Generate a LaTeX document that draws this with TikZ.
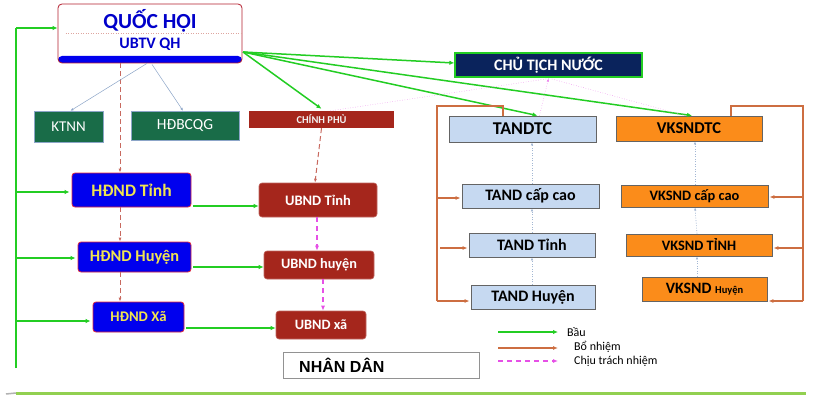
\documentclass[tikz,border=0pt]{standalone}
\usepackage{fontspec}
\setmainfont{Carlito}
\newfontfamily\arialfont{Liberation Sans}
\usetikzlibrary{arrows.meta,calc}
\definecolor{bgreen}{RGB}{35,205,35}
\definecolor{borange}{RGB}{205,110,65}
\definecolor{bpink}{RGB}{230,80,230}
\definecolor{bbrown}{RGB}{200,105,95}
\definecolor{hdblue}{RGB}{0,0,238}
\definecolor{hdred}{RGB}{225,40,60}
\definecolor{hdyellow}{RGB}{240,228,80}
\definecolor{ubred}{RGB}{165,38,28}
\definecolor{kgreen}{RGB}{25,108,72}
\definecolor{navy}{RGB}{10,35,92}
\definecolor{tblue}{RGB}{198,217,241}
\definecolor{vorange}{RGB}{251,140,26}
\definecolor{gborder}{RGB}{100,100,100}
\definecolor{thinblue}{RGB}{140,165,200}
\definecolor{lgreen}{RGB}{146,208,80}
\begin{document}
\begin{tikzpicture}[x=1pt,y=-1pt,
  fsz/.style={font={\fontsize{#1}{#1}\selectfont\bfseries}},
  fszr/.style={font={\fontsize{#1}{#1}\selectfont}},
  bx/.style 2 args={inner sep=0pt,minimum width=#1,minimum height=#2},
  hdnd/.style={draw=hdred,line width=0.8pt,fill=hdblue,rounded corners=3pt,text=hdyellow},
  ubnd/.style={fill=ubred,draw=ubred!70!white,line width=0.6pt,rounded corners=3pt,text=white},
  tand/.style={fill=tblue,draw=gborder,line width=0.8pt},
  vks/.style={fill=vorange,draw=gborder,line width=0.8pt},
  kgr/.style={fill=kgreen,draw=thinblue,line width=0.5pt,text=white},
  bau/.style={draw=bgreen,line width=1.5pt,-{Latex[length=5pt,width=4.5pt]}},
  bauline/.style={draw=bgreen,line width=1.5pt},
  bonhiem/.style={draw=borange,line width=1.3pt,-{Latex[length=5pt,width=4pt]}},
  bonline/.style={draw=borange,line width=1.3pt},
  ctn/.style={draw=bpink,line width=1.4pt,dash pattern=on 5pt off 4pt,-{Latex[length=5pt,width=4pt]}},
  pinkdot/.style={draw=bpink!70!white,line width=0.5pt,dotted},
  browndash/.style={draw=bbrown,line width=1pt,dash pattern=on 5pt off 3pt,-{Latex[length=4pt,width=3pt]}},
  bluedot/.style={draw=thinblue!80!white,line width=0.6pt,dash pattern=on 1pt off 1.5pt,-{Latex[length=3pt,width=2.5pt]}},
  thinline/.style={draw=thinblue,line width=0.5pt,-{Latex[length=3pt,width=2.5pt]}}
]
\useasboundingbox (0,0) rectangle (827,401);
\fill[white] (0,0) rectangle (827,401);

% Quoc hoi
\node[bx={184pt}{59pt},draw=hdred!80!black,line width=0.8pt,fill=white,rounded corners=4pt,
  path picture={\fill[hdblue] ([yshift=7pt]path picture bounding box.south west) rectangle (path picture bounding box.south east);}]
  (QH) at (150,33.5) {};
\node[fsz=21.5,text=hdblue!85!black,inner sep=0pt] (QHt) at (150,21) {QUỐC HỘI};
\node[fsz=16,text=hdblue!85!black,inner sep=0pt] (UB) at (150,44) {UBTV QH};
\draw[bbrown!60!white,line width=0.5pt,dotted] (QH.west |- 0,33) ++(8,0) coordinate (dl) -- (QH.east |- 0,33) ++(-8,0) coordinate (dr);

\node[bx={69pt}{31pt},kgr,fszr=15] (KT) at (68.5,126.5) {KTNN};
\node[bx={108pt}{29pt},kgr,fszr=15.5] (HB) at (185,125.5) {HĐBCQG};
\node[bx={145pt}{17pt},fill=ubred,fsz=10.5,text=white!90!gray] (CP) at (321.5,119.5) {CHÍNH PHỦ};
\node[bx={187pt}{24pt},fill=navy,draw=bgreen,line width=1.2pt,fsz=16,text=white] (CTN) at (548.5,65) {CHỦ TỊCH NƯỚC};

\node[bx={147pt}{26pt},tand,fsz=18] (TC) at (522.5,129) {TANDTC};
\node[bx={137pt}{24pt},tand,fsz=16] (TCC) at (530.5,196) {TAND cấp cao};
\node[bx={126pt}{24pt},tand,fsz=16] (TT) at (532,245) {TAND Tỉnh};
\node[bx={124pt}{24pt},tand,fsz=16] (TH) at (533,297) {TAND Huyện};

\node[bx={146pt}{25pt},vks,fsz=16.5] (VK) at (689,128.5) {VKSNDTC};
\node[bx={147pt}{22pt},vks,fsz=14.4] (VCC) at (694.5,196) {VKSND cấp cao};
\node[bx={146pt}{22pt},vks,fsz=14.4] (VT) at (699,245) {VKSND TỈNH};
\node[bx={125pt}{24pt},vks,fsz=15.8] (VH) at (704.5,289) {VKSND {\fontsize{10.5}{10.5}\selectfont Huyện}};

\node[bx={119pt}{34pt},hdnd,fsz=17.5] (HT) at (131.5,190) {HĐND Tỉnh};
\node[bx={113pt}{30pt},hdnd,fsz=16.4] (HH) at (134.5,257) {HĐND Huyện};
\node[bx={91pt}{30pt},hdnd,fsz=14.7] (HX) at (138.5,317) {HĐND Xã};

\node[bx={118pt}{34pt},ubnd,fsz=14.5] (UT) at (318,200) {UBND Tỉnh};
\node[bx={110pt}{28pt},ubnd,fsz=14.3] (UH) at (319,265) {UBND huyện};
\node[bx={90pt}{28pt},ubnd,fsz=14.3] (UX) at (321,325) {UBND xã};

\node[bx={196pt}{26pt},draw=gborder!70!white,line width=0.6pt,fill=white] (ND) at (381,365) {};
\node[anchor=west,inner sep=0pt,font={\arialfont\fontsize{16}{16}\selectfont\bfseries}] (NDt) at (299,365.5) {NHÂN DÂN};

% left green trunk
\coordinate (Ltop) at (16,28);
\coordinate (Lbot) at (16,368);
\coordinate (L1) at (16,192);
\coordinate (L2) at (16,258);
\coordinate (L3) at (16,321);
\draw[bauline] (Lbot) -- (Ltop);
\draw[bau] (Ltop) -- (QH.west |- Ltop);
\draw[bau] (L1) -- ([xshift=-2pt]HT.west |- L1);
\draw[bau] (L2) -- ([xshift=-2pt]HH.west |- L2);
\draw[bau] (L3) -- ([xshift=-2pt]HX.west |- L3);

% HDND -> UBND
\draw[bau] ([xshift=2pt]HT.east |- 0,206) -- (UT.west |- 0,206);
\draw[bau] ([xshift=2pt]HH.east |- 0,267) -- (UH.west |- 0,267);
\draw[bau] ([xshift=2pt]HX.east |- 0,328) -- (UX.west |- 0,328);

% QH green arrows
\coordinate (qhc) at (243,52);
\draw[bau] (qhc) -- ([yshift=2pt]CP.north);
\draw[bau] (qhc) -- ([yshift=2pt]CTN.west);
\draw[bau] (qhc) -- ([xshift=15pt]TC.north);
\draw[bau] (qhc) -- ([xshift=3pt]VK.north);

% pink dotted to CTN
\draw[pinkdot] ([xshift=9pt]CP.north) -- ([yshift=-1pt]CTN.south);
\draw[pinkdot,-{Latex[length=3pt,width=2.5pt]}] ([xshift=17pt]TC.north) -- ([yshift=-1pt]CTN.south);
\draw[pinkdot] ([xshift=-4pt]VK.north) -- ([xshift=2pt,yshift=-1pt]CTN.south);

% brown dashed
\draw[browndash] (QH.south -| 120,0) -- (HT.north -| 120,0);
\draw[browndash] (HT.south -| 120,0) -- (HH.north -| 120,0);
\draw[browndash] (HH.south -| 120,0) -- (HX.north -| 120,0);
\draw[browndash] (CP.south) -- ([xshift=-3pt]UT.north);

% thin lines to KTNN, HDBCQG
\draw[thinline] ([xshift=-3pt]QH.south) -- ([xshift=2pt]KT.north);
\draw[thinline] ([xshift=2pt,yshift=-1pt]QH.south) -- ([xshift=-2pt]HB.north);

% pink dashed UBND
\draw[ctn] ([xshift=-1pt]UT.south) -- ([xshift=-2pt]UH.north);
\draw[ctn] ([xshift=4pt]UH.south) -- ([xshift=2pt]UX.north);

% blue dotted court chains
\draw[bluedot] (TH.north -| 532,0) -- (TT.south -| 532,0);
\draw[bluedot] (TT.north -| 532,0) -- (TCC.south -| 532,0);
\draw[bluedot] (TCC.north -| 532,0) -- (TC.south -| 532,0);
\draw[bluedot] (VH.north -| 697,0) -- (VT.south -| 697,0);
\draw[bluedot] (VT.north -| 697,0) -- (VCC.south -| 695,0);
\draw[bluedot] (VCC.north -| 695,0) -- (VK.south -| 695,0);

% orange brackets
\coordinate (ob1) at (503,106);
\coordinate (ob2) at (437,106);
\coordinate (ob3) at (437,301);
\coordinate (ob4) at (437,198);
\coordinate (ob5) at (440,248);
\draw[bonline] (TC.north -| ob1) -- (ob1) -- (ob2) -- (ob3);
\draw[bonhiem] (ob3) -- ([xshift=-1pt]TH.west |- ob3);
\draw[bonhiem] (ob4) -- ([xshift=-1pt]TCC.west |- ob4);
\draw[bonhiem] (ob5) -- ([xshift=-1pt]TT.west |- ob5);
\coordinate (or1) at (731,106);
\coordinate (or2) at (803,106);
\coordinate (or3) at (803,301);
\coordinate (or4) at (803,197);
\coordinate (or5) at (803,248);
\draw[bonline] (VK.north -| or1) -- (or1) -- (or2) -- (or3);
\draw[bonhiem] (or3) -- ([xshift=1pt]VH.east |- or3);
\draw[bonhiem] (or4) -- ([xshift=1pt]VCC.east |- or4);
\draw[bonhiem] (or5) -- ([xshift=1pt]VT.east |- or5);

% legend
\coordinate (lg1a) at (498,332); \coordinate (lg1b) at (558,332);
\coordinate (lg2a) at (498,348); \coordinate (lg2b) at (558,348);
\coordinate (lg3a) at (498,361); \coordinate (lg3b) at (558,361);
\draw[bau,line width=1.3pt] (lg1a) -- (lg1b);
\draw[bonhiem] (lg2a) -- (lg2b);
\draw[ctn] (lg3a) -- (lg3b);
\node[anchor=west,inner sep=0pt,fszr=12] (lgt1) at (567,332) {Bầu};
\node[anchor=west,inner sep=0pt,fszr=12] (lgt2) at (574,347) {Bổ nhiệm};
\node[anchor=west,inner sep=0pt,fszr=12] (lgt3) at (574,361) {Chịu trách nhiệm};

% bottom line
\coordinate (bl0) at (6,394); \coordinate (bl1) at (16,393); \coordinate (bl2) at (806,393);
\draw[gray!60,line width=1.5pt] (bl0) -- (bl1);
\draw[lgreen,line width=3pt] (bl1) -- (bl2);
\end{tikzpicture}
\end{document}
